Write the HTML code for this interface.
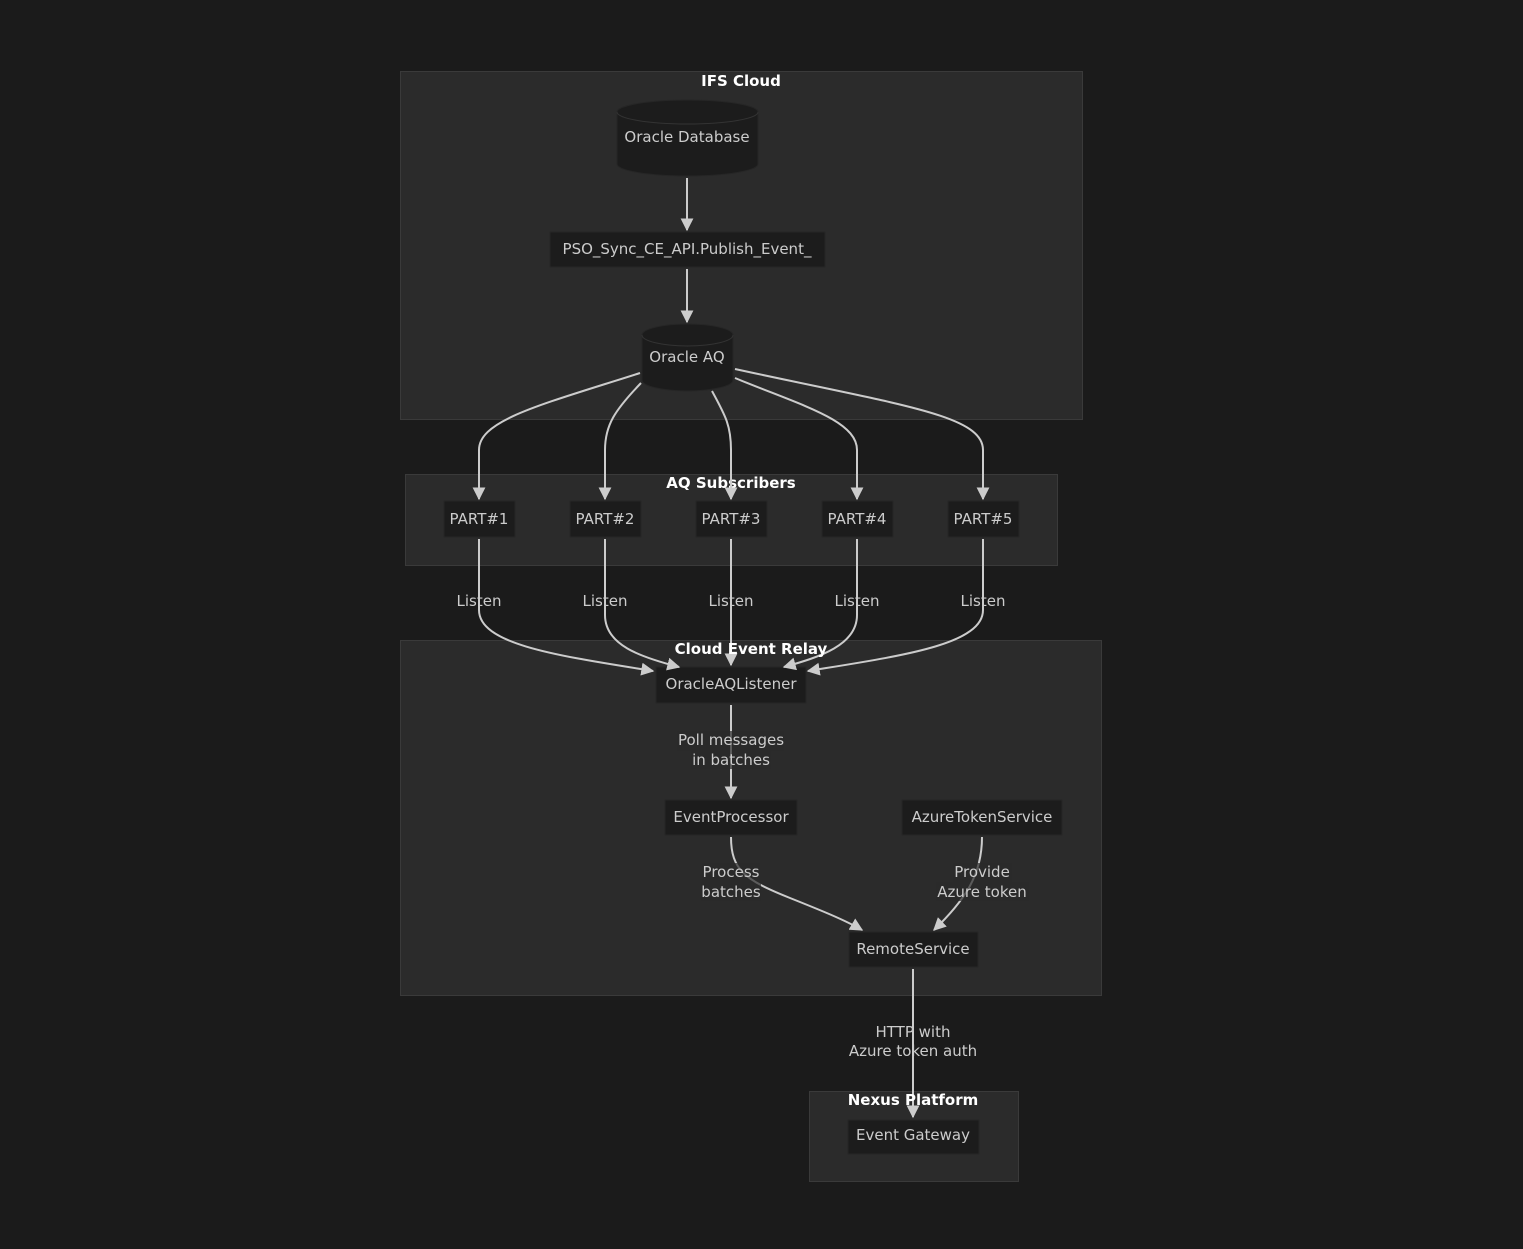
<!DOCTYPE html>
<html><head><meta charset="utf-8"><style>
html,body{margin:0;padding:0;background:#1b1b1b;}
svg{display:block;}
text{font-family:"DejaVu Sans","Liberation Sans",sans-serif;font-size:15px;fill:#cccccc;text-anchor:middle;dominant-baseline:central;}
.t{fill:#ffffff;font-weight:bold;}
.c{fill:#2b2b2b;stroke:#3a3a3a;stroke-width:1;}
.n{fill:#1c1c1c;stroke:#262626;stroke-width:1;}
.e{fill:none;stroke:#cccccc;stroke-width:2;marker-end:url(#a);}
.lb{fill:#2b2b2b;opacity:.7}
</style></head><body>
<svg width="1523" height="1249" viewBox="0 0 1523 1249" xmlns="http://www.w3.org/2000/svg">
<defs><marker id="a" viewBox="0 0 10 10" refX="9" refY="5" markerWidth="13" markerHeight="13" orient="auto-start-reverse" markerUnits="userSpaceOnUse"><path d="M0,0 L10,5 L0,10 z" fill="#cccccc"/></marker></defs>
<rect width="1523" height="1249" fill="#1b1b1b"/>
<rect class="c" x="400.5" y="71.5" width="682" height="348"/>
<text class="t" x="741" y="81">IFS Cloud</text>
<rect class="c" x="405.5" y="474.5" width="652" height="91"/>
<text class="t" x="731" y="483">AQ Subscribers</text>
<rect class="c" x="400.5" y="640.5" width="701" height="355"/>
<rect class="c" x="809.5" y="1091.5" width="209" height="90"/>
<path d="M617,112 A70.5,12 0 0 1 758,112 L758,164 A70.5,12 0 0 1 617,164 Z" fill="#1c1c1c" stroke="#262626"/>
<path d="M617,112 A70.5,12 0 0 0 758,112" fill="none" stroke="#333"/>
<text x="687" y="137">Oracle Database</text>
<path d="M642,335 A45.5,11 0 0 1 733,335 L733,380 A45.5,11 0 0 1 642,380 Z" fill="#1c1c1c" stroke="#262626"/>
<path d="M642,335 A45.5,11 0 0 0 733,335" fill="none" stroke="#333"/>
<text x="687" y="357">Oracle AQ</text>
<rect class="n" x="550" y="232" width="275" height="35"/>
<text x="687" y="249">PSO_Sync_CE_API.Publish_Event_</text>
<rect class="n" x="444" y="501" width="71" height="36"/><text x="479" y="519">PART#1</text>
<rect class="n" x="570" y="501" width="71" height="36"/><text x="605" y="519">PART#2</text>
<rect class="n" x="696" y="501" width="71" height="36"/><text x="731" y="519">PART#3</text>
<rect class="n" x="822" y="501" width="71" height="36"/><text x="857" y="519">PART#4</text>
<rect class="n" x="948" y="501" width="71" height="36"/><text x="983" y="519">PART#5</text>
<rect class="n" x="656" y="667" width="150" height="36"/><text x="731" y="684">OracleAQListener</text>
<rect class="n" x="665" y="800" width="132" height="35"/><text x="731" y="817">EventProcessor</text>
<rect class="n" x="902" y="800" width="160" height="35"/><text x="982" y="817">AzureTokenService</text>
<rect class="n" x="849" y="932" width="129" height="35"/><text x="913" y="949">RemoteService</text>
<rect class="n" x="848" y="1120" width="131" height="34"/><text x="913" y="1135">Event Gateway</text>
<path class="e" d="M687,178 L687,230"/>
<path class="e" d="M687,269 L687,322"/>
<path class="e" d="M640,373 C540,405 479,420 479,450 L479,499"/>
<path class="e" d="M641,383 C615,410 605,425 605,450 L605,499"/>
<path class="e" d="M712,391 C725,415 731,425 731,450 L731,499"/>
<path class="e" d="M735,378 C800,405 857,420 857,450 L857,499"/>
<path class="e" d="M735,369 C900,405 983,415 983,450 L983,499"/>
<path class="e" d="M479,539 L479,610 C479,645 560,656 653,671"/>
<path class="e" d="M605,539 L605,615 C605,645 640,657 679,667"/>
<path class="e" d="M731,539 L731,665"/>
<path class="e" d="M857,539 L857,615 C857,645 820,657 784,667"/>
<path class="e" d="M983,539 L983,610 C983,645 900,656 808,671"/>
<path class="e" d="M731,705 L731,798"/>
<path class="e" d="M731,837 C731,870 745,880 790,898 C820,910 845,920 862,930"/>
<path class="e" d="M982,837 C982,875 965,900 934,930"/>
<path class="e" d="M913,969 L913,1117"/>
<text class="t" x="751" y="649">Cloud Event Relay</text>
<text class="t" x="913" y="1100">Nexus Platform</text>
<text x="479" y="601">Listen</text>
<text x="605" y="601">Listen</text>
<text x="731" y="601">Listen</text>
<text x="857" y="601">Listen</text>
<text x="983" y="601">Listen</text>
<rect class="lb" x="677" y="731" width="107" height="20"/><rect class="lb" x="691" y="751" width="80" height="18"/>
<text x="731" y="740">Poll messages</text><text x="731" y="760">in batches</text>
<rect class="lb" x="702" y="863" width="58" height="19"/><rect class="lb" x="701" y="882" width="60" height="19"/>
<text x="731" y="872">Process</text><text x="731" y="892">batches</text>
<rect class="lb" x="953" y="863" width="59" height="19"/><rect class="lb" x="936" y="882" width="93" height="19"/>
<text x="982" y="872">Provide</text><text x="982" y="892">Azure token</text>
<text x="913" y="1032">HTTP with</text><text x="913" y="1051">Azure token auth</text>
</svg>
</body></html>
